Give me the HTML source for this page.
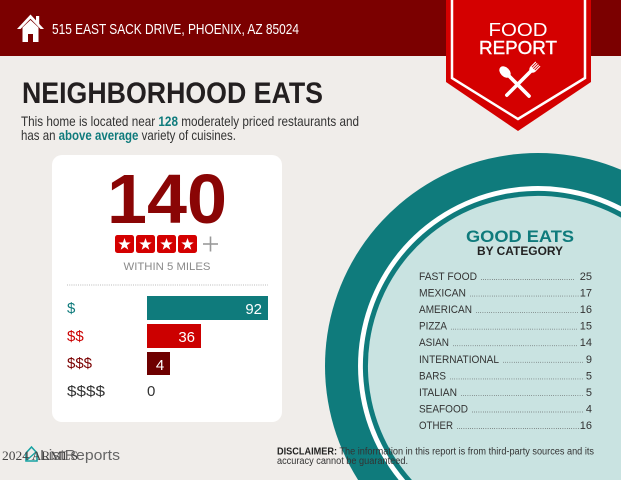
<!DOCTYPE html>
<html><head><meta charset="utf-8"><style>
html,body{margin:0;padding:0;background:#f0edea;width:621px;height:480px;overflow:hidden;}
svg{display:block;}
text{font-family:"Liberation Sans",Arial,sans-serif;}
</style></head><body>
<svg width="621" height="480" viewBox="0 0 621 480" xmlns="http://www.w3.org/2000/svg">
<rect x="0" y="0" width="621" height="480" fill="#f0edea"/>
<!-- header -->
<rect x="0" y="0" width="621" height="56" fill="#7b0000"/>
<!-- house icon -->
<polygon points="17,29 30.5,14.5 44,29 40.5,29 30.5,18.8 20.5,29" fill="#fff"/>
<rect x="36" y="16" width="3.2" height="8" fill="#fff"/>
<path d="M22.5,27.5 L30.5,20 L38.5,27.5 L38.5,42 L33,42 L33,34 L28,34 L28,42 L22.5,42 Z" fill="#fff"/>
<text x="52" y="34" font-size="15" fill="#fff" textLength="247" lengthAdjust="spacingAndGlyphs">515 EAST SACK DRIVE, PHOENIX, AZ 85024</text>

<!-- badge -->
<polygon points="446,0 591,0 591,82 518,131 446,82" fill="#d40000"/>
<polyline points="452,0 452,78 518,119 585,78 585,0" fill="none" stroke="#fff" stroke-width="2.5"/>
<text x="518" y="36" font-size="18" fill="#fff" text-anchor="middle" textLength="59" lengthAdjust="spacingAndGlyphs">FOOD</text>
<text x="518" y="54" font-size="18" fill="#fff" stroke="#fff" stroke-width="0.4" text-anchor="middle" textLength="78" lengthAdjust="spacingAndGlyphs">REPORT</text>
<!-- spoon -->
<g transform="translate(505,72) rotate(-45)" fill="#fff" stroke="#fff">
<ellipse cx="0" cy="0" rx="4.6" ry="6.6" stroke="none"/>
<line x1="0" y1="4" x2="0" y2="34" stroke-width="3.6" stroke-linecap="round"/>
</g>
<!-- fork -->
<g transform="translate(533,69) rotate(45)" fill="#fff" stroke="#fff">
<line x1="-3" y1="-7" x2="-3" y2="0" stroke-width="1.1"/>
<line x1="-1" y1="-7" x2="-1" y2="0" stroke-width="1.1"/>
<line x1="1" y1="-7" x2="1" y2="0" stroke-width="1.1"/>
<line x1="3" y1="-7" x2="3" y2="0" stroke-width="1.1"/>
<path d="M-3.6,-0.5 L3.6,-0.5 Q3.6,3 0,4.5 Q-3.6,3 -3.6,-0.5 Z" stroke="none"/>
<line x1="0" y1="3" x2="0" y2="37" stroke-width="3.6" stroke-linecap="round"/>
</g>

<!-- title -->
<text x="22" y="103" font-size="30" font-weight="bold" fill="#231f20" textLength="301" lengthAdjust="spacingAndGlyphs">NEIGHBORHOOD EATS</text>
<text x="21" y="126" font-size="14" fill="#333" textLength="338" lengthAdjust="spacingAndGlyphs">This home is located near <tspan fill="#0f7b7c" font-weight="bold">128</tspan> moderately priced restaurants and</text>
<text x="21" y="140" font-size="14" fill="#333" textLength="215" lengthAdjust="spacingAndGlyphs">has an <tspan fill="#0f7b7c" font-weight="bold">above average</tspan> variety of cuisines.</text>

<!-- circle (clipped to frame as paths) -->
<path d="M358.1,480 A213,213 0 0 1 621,169.8 L621,480 Z" fill="#0f7b7c"/>
<path d="M398.7,480 A180,180 0 0 1 621,206.3 L621,480 Z" fill="#ffffff"/>
<path d="M405.2,480 A175,175 0 0 1 621,211.9 L621,480 Z" fill="#0f7b7c"/>
<path d="M411.9,480 A170,170 0 0 1 621,217.6 L621,480 Z" fill="#c9e3e1"/>

<!-- card -->
<rect x="52" y="155" width="230" height="267" rx="10" fill="#fff"/>
<text x="167" y="223" font-size="70" font-weight="bold" fill="#8a0505" text-anchor="middle" textLength="120" lengthAdjust="spacingAndGlyphs">140</text>
<g fill="#d40000">
<rect x="115" y="235" width="19" height="18" rx="2.5"/>
<rect x="136" y="235" width="19" height="18" rx="2.5"/>
<rect x="157" y="235" width="19" height="18" rx="2.5"/>
<rect x="178" y="235" width="19" height="18" rx="2.5"/>
</g>
<g fill="#fff">
<polygon transform="translate(124.5,244.5)" points="0,-6.5 1.53,-2.1 6.18,-2.01 2.47,0.8 3.82,5.26 0,2.6 -3.82,5.26 -2.47,0.8 -6.18,-2.01 -1.53,-2.1"/>
<polygon transform="translate(145.5,244.5)" points="0,-6.5 1.53,-2.1 6.18,-2.01 2.47,0.8 3.82,5.26 0,2.6 -3.82,5.26 -2.47,0.8 -6.18,-2.01 -1.53,-2.1"/>
<polygon transform="translate(166.5,244.5)" points="0,-6.5 1.53,-2.1 6.18,-2.01 2.47,0.8 3.82,5.26 0,2.6 -3.82,5.26 -2.47,0.8 -6.18,-2.01 -1.53,-2.1"/>
<polygon transform="translate(187.5,244.5)" points="0,-6.5 1.53,-2.1 6.18,-2.01 2.47,0.8 3.82,5.26 0,2.6 -3.82,5.26 -2.47,0.8 -6.18,-2.01 -1.53,-2.1"/>
</g>
<line x1="203" y1="244" x2="218" y2="244" stroke="#999" stroke-width="1.6"/>
<line x1="210.5" y1="236.5" x2="210.5" y2="251.5" stroke="#999" stroke-width="1.6"/>
<text x="167" y="270" font-size="11" fill="#8a8a8a" text-anchor="middle" textLength="87" lengthAdjust="spacingAndGlyphs">WITHIN 5 MILES</text>
<line x1="67" y1="285" x2="268" y2="285" stroke="#bbb" stroke-width="1" stroke-dasharray="1 1.2"/>

<!-- price bars -->
<rect x="147" y="296" width="121" height="24" fill="#0f7b7c"/>
<rect x="147" y="324" width="54" height="24" fill="#cc0000"/>
<rect x="147" y="352" width="23" height="23" fill="#6e0000"/>
<text x="67" y="313" font-size="15" fill="#0f7b7c">$</text>
<text x="67" y="341" font-size="15" fill="#cc0000">$$</text>
<text x="67" y="368" font-size="15" fill="#7b0000">$$$</text>
<text x="67" y="396" font-size="15" fill="#333" textLength="38" lengthAdjust="spacingAndGlyphs">$$$$</text>
<text x="262" y="314" font-size="15" fill="#fff" text-anchor="end">92</text>
<text x="195" y="342" font-size="15" fill="#fff" text-anchor="end">36</text>
<text x="160" y="370" font-size="15" fill="#fff" text-anchor="middle">4</text>
<text x="147" y="396" font-size="15" fill="#333">0</text>

<!-- good eats -->
<text x="520" y="242" font-size="17" font-weight="bold" fill="#0f7b7c" text-anchor="middle" textLength="108" lengthAdjust="spacingAndGlyphs">GOOD EATS</text>
<text x="520" y="255" font-size="11.5" font-weight="bold" fill="#222" text-anchor="middle" textLength="86" lengthAdjust="spacingAndGlyphs">BY CATEGORY</text>

<g font-size="11" fill="#333">
<text x="419" y="280" textLength="58" lengthAdjust="spacingAndGlyphs">FAST FOOD</text>
<text x="592" y="280" text-anchor="end">25</text>
<text x="419" y="296.6" textLength="47" lengthAdjust="spacingAndGlyphs">MEXICAN</text>
<text x="592" y="296.6" text-anchor="end">17</text>
<text x="419" y="313.1" textLength="53" lengthAdjust="spacingAndGlyphs">AMERICAN</text>
<text x="592" y="313.1" text-anchor="end">16</text>
<text x="419" y="329.7" textLength="28" lengthAdjust="spacingAndGlyphs">PIZZA</text>
<text x="592" y="329.7" text-anchor="end">15</text>
<text x="419" y="346.2" textLength="30" lengthAdjust="spacingAndGlyphs">ASIAN</text>
<text x="592" y="346.2" text-anchor="end">14</text>
<text x="419" y="362.8" textLength="80" lengthAdjust="spacingAndGlyphs">INTERNATIONAL</text>
<text x="592" y="362.8" text-anchor="end">9</text>
<text x="419" y="379.4" textLength="27" lengthAdjust="spacingAndGlyphs">BARS</text>
<text x="592" y="379.4" text-anchor="end">5</text>
<text x="419" y="395.9" textLength="38" lengthAdjust="spacingAndGlyphs">ITALIAN</text>
<text x="592" y="395.9" text-anchor="end">5</text>
<text x="419" y="412.5" textLength="49" lengthAdjust="spacingAndGlyphs">SEAFOOD</text>
<text x="592" y="412.5" text-anchor="end">4</text>
<text x="419" y="429" textLength="34" lengthAdjust="spacingAndGlyphs">OTHER</text>
<text x="592" y="429" text-anchor="end">16</text>
</g>
<g stroke="#555" stroke-width="0.9" stroke-dasharray="0.6 1.6">
<line x1="481" y1="279.5" x2="575" y2="279.5"/>
<line x1="470" y1="296.1" x2="579" y2="296.1"/>
<line x1="476" y1="312.6" x2="578" y2="312.6"/>
<line x1="451" y1="329.2" x2="578" y2="329.2"/>
<line x1="453" y1="345.7" x2="578" y2="345.7"/>
<line x1="503" y1="362.3" x2="583" y2="362.3"/>
<line x1="450" y1="378.9" x2="583" y2="378.9"/>
<line x1="461" y1="395.4" x2="583" y2="395.4"/>
<line x1="472" y1="412" x2="583" y2="412"/>
<line x1="457" y1="428.5" x2="579" y2="428.5"/>
</g>

<!-- disclaimer -->
<text x="277" y="454.5" font-size="10" fill="#333" textLength="317" lengthAdjust="spacingAndGlyphs"><tspan font-weight="bold" fill="#222">DISCLAIMER:</tspan> The information in this report is from third-party sources and its</text>
<text x="277" y="464" font-size="10" fill="#333" textLength="131" lengthAdjust="spacingAndGlyphs">accuracy cannot be guaranteed.</text>

<!-- footer logo -->
<path d="M26,453 L31.5,447 L37,453 L37,461 L26,461 Z" fill="none" stroke="#17a2a2" stroke-width="1.6"/>
<path d="M27,460 L36,452" stroke="#17a2a2" stroke-width="1.4"/>
<text x="40" y="460" font-size="15" fill="#666" textLength="80" lengthAdjust="spacingAndGlyphs">ListReports</text>
<text x="2" y="460" font-size="13" fill="#444" style="font-family:'Liberation Serif',serif" textLength="76" lengthAdjust="spacingAndGlyphs">2024 ARMLS</text>
</svg>
</body></html>
